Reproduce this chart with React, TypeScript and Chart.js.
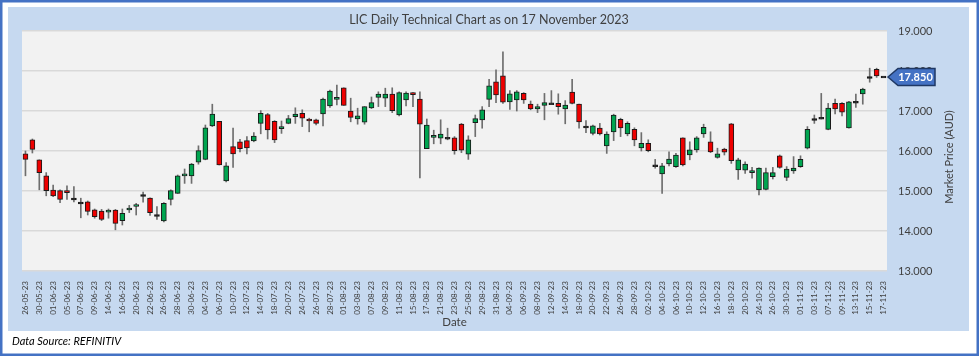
import React, { useEffect, useRef } from "react";
import { Chart, registerables } from "chart.js";

Chart.register(...registerables);

const chartTitle = "LIC Daily Technical Chart as on 17 November 2023";
const yAxisTitle = "Market Price (AUD)";
const xAxisTitle = "Date";
const sourceNote = "Data Source: REFINITIV";

const dates = [
  "26-05-23", "29-05-23", "30-05-23", "31-05-23", "01-06-23", "02-06-23", "05-06-23", "06-06-23", "07-06-23", "08-06-23",
  "09-06-23", "13-06-23", "14-06-23", "15-06-23", "16-06-23", "19-06-23", "20-06-23", "21-06-23", "22-06-23", "23-06-23",
  "26-06-23", "27-06-23", "28-06-23", "29-06-23", "30-06-23", "03-07-23", "04-07-23", "05-07-23", "06-07-23", "07-07-23",
  "10-07-23", "11-07-23", "12-07-23", "13-07-23", "14-07-23", "17-07-23", "18-07-23", "19-07-23", "20-07-23", "21-07-23",
  "24-07-23", "25-07-23", "26-07-23", "27-07-23", "28-07-23", "31-07-23", "01-08-23", "02-08-23", "03-08-23", "04-08-23",
  "07-08-23", "08-08-23", "09-08-23", "10-08-23", "11-08-23", "14-08-23", "15-08-23", "16-08-23", "17-08-23", "18-08-23",
  "21-08-23", "22-08-23", "23-08-23", "24-08-23", "25-08-23", "28-08-23", "29-08-23", "30-08-23", "31-08-23", "01-09-23",
  "04-09-23", "05-09-23", "06-09-23", "07-09-23", "08-09-23", "11-09-23", "12-09-23", "13-09-23", "14-09-23", "15-09-23",
  "18-09-23", "19-09-23", "20-09-23", "21-09-23", "22-09-23", "25-09-23", "26-09-23", "27-09-23", "28-09-23", "29-09-23",
  "02-10-23", "03-10-23", "04-10-23", "05-10-23", "06-10-23", "09-10-23", "10-10-23", "11-10-23", "12-10-23", "13-10-23",
  "16-10-23", "17-10-23", "18-10-23", "19-10-23", "20-10-23", "23-10-23", "24-10-23", "25-10-23", "26-10-23", "27-10-23",
  "30-10-23", "31-10-23", "01-11-23", "02-11-23", "03-11-23", "06-11-23", "07-11-23", "08-11-23", "09-11-23", "10-11-23",
  "13-11-23", "14-11-23", "15-11-23", "16-11-23", "17-11-23",
];

const openP = [
  15.93, 16.28, 15.78, 15.38, 15.02, 15.01, 15.01, 14.80, 14.70, 14.73,
  14.53, 14.50, 14.47, 14.52, 14.26, 14.54, 14.62, 14.89, 14.82, 14.39,
  14.25, 14.79, 14.94, 15.38, 15.38, 15.72, 15.79, 16.63, 16.74, 15.25,
  16.11, 16.23, 16.26, 16.25, 16.69, 16.91, 16.74, 16.56, 16.69, 16.86,
  16.94, 16.80, 16.78, 16.93, 17.13, 17.29, 17.58, 17.00, 16.80, 16.72,
  17.08, 17.34, 17.32, 17.42, 16.90, 17.28, 17.46, 17.30, 16.06, 16.34,
  16.32, 16.32, 16.33, 16.67, 15.92, 16.71, 16.78, 17.29, 17.73, 17.88,
  17.23, 17.28, 17.44, 17.17, 17.05, 17.14, 17.18, 17.19, 17.05, 17.47,
  17.17, 16.60, 16.44, 16.57, 16.13, 16.48, 16.79, 16.43, 16.54, 16.08,
  16.19, 15.63, 15.43, 15.68, 15.61, 16.33, 15.90, 16.03, 16.43, 16.23,
  15.84, 16.05, 16.68, 15.53, 15.52, 15.46, 15.03, 15.04, 15.36, 15.88,
  15.34, 15.50, 15.61, 16.07, 16.79, 16.82, 16.54, 17.19, 17.19, 16.58,
  17.22, 17.43, 17.84, 18.04, 17.85,
];

const highP = [
  16.00, 16.30, 15.78, 15.46, 15.15, 15.03, 15.13, 15.11, 14.82, 14.75,
  14.55, 14.54, 14.55, 14.54, 14.55, 14.64, 14.69, 14.97, 14.83, 14.61,
  14.71, 15.03, 15.40, 15.55, 15.69, 16.13, 16.65, 17.17, 16.74, 15.71,
  16.57, 16.29, 16.36, 16.46, 17.01, 16.94, 16.76, 16.75, 16.89, 17.08,
  17.03, 16.82, 16.80, 17.32, 17.52, 17.65, 17.58, 17.32, 17.07, 17.11,
  17.35, 17.48, 17.57, 17.58, 17.48, 17.48, 17.46, 17.48, 16.80, 16.52,
  16.78, 16.57, 16.36, 16.69, 16.38, 16.90, 17.11, 17.79, 18.03, 18.48,
  17.51, 17.51, 17.46, 17.25, 17.17, 17.44, 17.51, 17.43, 17.26, 17.79,
  17.17, 16.76, 16.65, 16.69, 16.48, 16.92, 16.82, 16.73, 16.58, 16.46,
  16.28, 15.79, 15.69, 15.98, 15.94, 16.33, 16.23, 16.36, 16.67, 16.48,
  16.07, 16.07, 16.69, 15.82, 15.73, 15.59, 15.58, 15.57, 15.59, 15.90,
  15.61, 15.86, 15.88, 16.61, 16.90, 17.44, 17.19, 17.30, 17.21, 17.24,
  17.42, 17.57, 18.07, 18.07, 17.85,
];

const lowP = [
  15.38, 15.95, 15.03, 14.88, 14.86, 14.71, 14.79, 14.73, 14.33, 14.40,
  14.32, 14.26, 14.32, 14.03, 14.15, 14.46, 14.40, 14.72, 14.39, 14.29,
  14.23, 14.65, 14.94, 15.19, 15.19, 15.67, 15.78, 16.61, 15.65, 15.23,
  15.59, 15.98, 15.93, 16.23, 16.43, 16.30, 16.21, 16.44, 16.68, 16.69,
  16.61, 16.48, 16.65, 16.63, 17.09, 17.15, 17.14, 16.73, 16.67, 16.67,
  17.06, 17.11, 17.11, 16.96, 16.88, 17.13, 17.11, 15.33, 16.06, 16.18,
  16.18, 16.28, 15.92, 15.96, 15.79, 16.36, 16.57, 17.11, 17.21, 17.19,
  17.04, 17.00, 17.19, 17.03, 16.96, 16.78, 17.17, 16.92, 16.68, 17.18,
  16.57, 16.46, 16.40, 16.40, 15.94, 16.26, 16.36, 16.38, 16.13, 16.00,
  15.98, 15.57, 14.94, 15.63, 15.59, 15.63, 15.78, 15.97, 16.34, 15.96,
  15.82, 15.90, 15.69, 15.29, 15.44, 15.32, 14.90, 15.03, 15.30, 15.57,
  15.26, 15.44, 15.59, 16.05, 16.69, 16.80, 16.53, 16.93, 16.88, 16.57,
  17.09, 17.17, 17.72, 17.84, 17.85,
];

const closeP = [
  15.79, 16.04, 15.46, 15.01, 14.88, 14.79, 14.96, 14.80, 14.70, 14.49,
  14.36, 14.29, 14.52, 14.19, 14.44, 14.56, 14.66, 14.89, 14.46, 14.39,
  14.69, 15.01, 15.38, 15.43, 15.67, 16.01, 16.58, 16.92, 15.65, 15.63,
  15.93, 16.06, 16.08, 16.37, 16.94, 16.53, 16.28, 16.61, 16.81, 16.92,
  16.82, 16.75, 16.69, 17.30, 17.50, 17.34, 17.14, 16.84, 16.88, 17.11,
  17.21, 17.42, 17.42, 17.01, 17.46, 17.45, 17.41, 16.67, 16.65, 16.39,
  16.42, 16.32, 16.01, 16.02, 16.28, 16.81, 17.03, 17.63, 17.40, 17.22,
  17.43, 17.48, 17.28, 17.05, 17.11, 17.21, 17.18, 17.11, 17.15, 17.19,
  16.73, 16.60, 16.63, 16.43, 16.42, 16.90, 16.58, 16.69, 16.28, 16.19,
  16.01, 15.63, 15.63, 15.80, 15.90, 15.65, 16.03, 16.33, 16.59, 15.98,
  15.93, 15.97, 15.76, 15.78, 15.67, 15.51, 15.57, 15.46, 15.46, 15.59,
  15.55, 15.57, 15.79, 16.54, 16.79, 16.82, 17.07, 17.05, 16.97, 17.23,
  17.22, 17.55, 17.84, 17.88, 17.85,
];

const priceMin = 13;
const priceMax = 19;
const priceStep = 1;

const UP = "#00a550";
const DOWN = "#ee0000";
const FLAT = "#111111";

export default function App() {
  const canvasRef = useRef<HTMLCanvasElement | null>(null);

  useEffect(() => {
    const canvas = canvasRef.current;
    if (!canvas) return;
    const family = "Lato, 'Open Sans', 'DejaVu Sans', sans-serif";
    Chart.defaults.font.family = family;

    const wicks = dates.map((_, i) => [lowP[i], highP[i]]);
    const bodies = dates.map((_, i) => {
      const lo = Math.min(openP[i], closeP[i]);
      const hi = Math.max(openP[i], closeP[i]);
      if (hi - lo < 0.045) {
        const mid = (hi + lo) / 2;
        return [mid - 0.0225, mid + 0.0225];
      }
      return [lo, hi];
    });
    const bodyColors = dates.map((_, i) =>
      closeP[i] > openP[i] + 0.001 ? UP : closeP[i] < openP[i] - 0.001 ? DOWN : FLAT
    );

    const framePlugin = {
      id: "frame",
      beforeDraw(chart: any) {
        const { ctx, chartArea } = chart;
        ctx.save();
        ctx.fillStyle = "#ffffff";
        ctx.fillRect(0, 0, chart.width, chart.height);
        ctx.fillStyle = "#c6d9f0";
        ctx.fillRect(8, 7, 961, 324);
        ctx.strokeStyle = "#4472c4";
        ctx.lineWidth = 2.5;
        ctx.strokeRect(1.25, 1.25, 976.5, 353.5);
        ctx.fillStyle = "#f2f2f2";
        ctx.fillRect(chartArea.left, chartArea.top, chartArea.right - chartArea.left, chartArea.bottom - chartArea.top);
        ctx.restore();
      },
      afterDraw(chart: any) {
        const { ctx, chartArea, scales } = chart;
        ctx.save();
        ctx.fillStyle = "#404040";
        ctx.font = `12.5px ${family}`;
        ctx.textAlign = "center";
        ctx.textBaseline = "middle";
        ctx.fillText(chartTitle, 489, 20);
        ctx.font = `11.5px ${family}`;
        ctx.fillText(xAxisTitle, (chartArea.left + chartArea.right) / 2, 322);
        ctx.save();
        ctx.translate(949, 157);
        ctx.rotate(-Math.PI / 2);
        ctx.font = `11px ${family}`;
        ctx.fillText(yAxisTitle, 0, 0);
        ctx.restore();
        ctx.fillStyle = "#000000";
        ctx.font = `italic 11px ${family}`;
        ctx.textAlign = "left";
        ctx.fillText(sourceNote, 12, 341);
        const last = closeP[closeP.length - 1];
        const y = scales.y.getPixelForValue(last);
        const tip = chartArea.right + 1;
        const bx = tip + 10;
        const ex = 935;
        const h = 8.5;
        ctx.beginPath();
        ctx.moveTo(tip, y);
        ctx.lineTo(bx, y - h);
        ctx.lineTo(ex, y - h);
        ctx.lineTo(ex, y + h);
        ctx.lineTo(bx, y + h);
        ctx.closePath();
        ctx.fillStyle = "#4472c4";
        ctx.fill();
        ctx.strokeStyle = "#1f3864";
        ctx.lineWidth = 1.5;
        ctx.stroke();
        ctx.fillStyle = "#ffffff";
        ctx.font = `bold 11px ${family}`;
        ctx.textAlign = "center";
        ctx.fillText(last.toFixed(3), (bx + ex) / 2 - 1, y + 0.5);
        ctx.restore();
      },
    };

    const chart = new Chart(canvas, {
      type: "bar",
      data: {
        labels: dates,
        datasets: [
          {
            label: "Body",
            data: bodies as any,
            backgroundColor: bodyColors,
            borderColor: "#1a1a1a",
            borderWidth: 1,
            borderSkipped: false,
            barThickness: 5,
            grouped: false,
            order: 0,
          } as any,
          {
            label: "Wick",
            data: wicks as any,
            backgroundColor: "#6e6e6e",
            borderWidth: 0,
            barThickness: 1,
            grouped: false,
            order: 1,
          } as any,
        ],
      },
      options: {
        responsive: false,
        animation: false,
        events: [],
        layout: { padding: { left: 22, top: 31, right: 32, bottom: 35 } },
        plugins: {
          legend: { display: false },
          tooltip: { enabled: false },
          title: { display: false },
        },
        scales: {
          x: {
            offset: true,
            grid: { display: false },
            border: { display: false },
            ticks: {
              autoSkip: false,
              maxRotation: 90,
              minRotation: 90,
              padding: 2,
              color: "#404040",
              font: { size: 8 },
              callback: (_v: any, i: number) => (i % 2 === 0 ? dates[i] : ""),
            },
            afterFit: (s: any) => {
              s.height = 50;
            },
          },
          y: {
            position: "right",
            min: priceMin,
            max: priceMax,
            border: { display: false },
            grid: { color: "#d9d9d9", lineWidth: 1.5, drawTicks: false },
            ticks: {
              stepSize: priceStep,
              padding: 11,
              color: "#404040",
              font: { size: 11 },
              callback: (v: any) => Number(v).toFixed(3),
            },
            afterFit: (s: any) => {
              s.width = 60;
            },
          },
        },
      },
      plugins: [framePlugin],
    });

    return () => chart.destroy();
  }, []);

  return (
    <div style={{ position: "fixed", left: 0, top: 0, width: 979, height: 356 }}>
      <canvas ref={canvasRef} width={979} height={356} style={{ display: "block" }} />
    </div>
  );
}
